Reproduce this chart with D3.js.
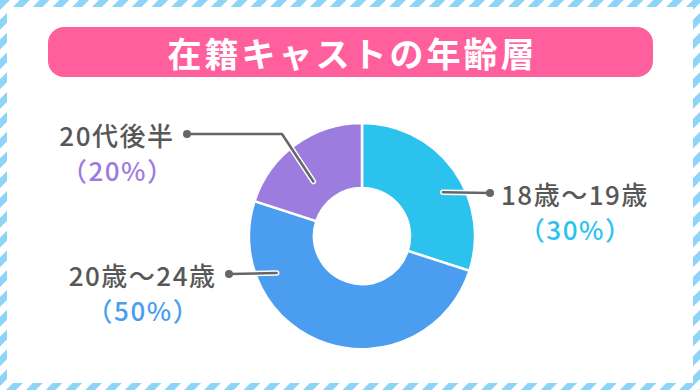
<!DOCTYPE html>
<html>
<head>
<meta charset="utf-8">
<script src="https://cdn.jsdelivr.net/npm/d3@7"></script>
<style>
  body { margin: 0; background: #fff; }
  svg { display: block; }
  .label { font-family: "Noto Sans CJK JP", sans-serif; font-size: 26px; font-weight: 500; fill: #575757; letter-spacing: 1.5px; }
  .pct { font-family: "Noto Sans CJK JP", sans-serif; font-size: 26px; font-weight: 500; letter-spacing: 1.5px; }
  .title { font-family: "Noto Sans CJK JP", sans-serif; font-size: 34px; font-weight: 700; fill: #fff; letter-spacing: 3px; }
</style>
</head>
<body>
<div id="chart"></div>
<script>
const titleText = "在籍キャストの年齢層";
const categories = ["18歳～19歳", "20歳～24歳", "20代後半"];
const shares = [30, 50, 20];
const colors = ["#2bc3ee", "#4a9def", "#9d7ce0"];

// leader line layout: where the line starts inside the slice, and where the label sits
const leaders = [
  { f: 0.57, r: 92, dot: [490, 193], elbow: null, anchor: "start" },
  { f: 0.77, r: 93, dot: [229, 274], elbow: null, anchor: "end" },
  { f: 0.42, r: 73, dot: [187, 134], elbow: [282, 134], anchor: "end" }
];

const width = 700, height = 390;
const cx = 362, cy = 236;
const outerR = 113, innerR = 48;

const svg = d3.select("#chart").append("svg")
  .attr("width", width)
  .attr("height", height);

// striped frame
const defs = svg.append("defs");
const pat = defs.append("pattern")
  .attr("id", "stripes")
  .attr("patternUnits", "userSpaceOnUse")
  .attr("width", 14)
  .attr("height", 14)
  .attr("patternTransform", "rotate(45)");
pat.append("rect").attr("width", 14).attr("height", 14).attr("fill", "#fff");
pat.append("rect").attr("width", 7).attr("height", 14).attr("fill", "#8dd4f8");

svg.append("rect").attr("width", width).attr("height", height).attr("fill", "url(#stripes)");
svg.append("rect")
  .attr("x", 7).attr("y", 7)
  .attr("width", width - 14).attr("height", height - 14)
  .attr("fill", "#fff");

// title
svg.append("rect")
  .attr("x", 48).attr("y", 27)
  .attr("width", 605).attr("height", 50)
  .attr("rx", 16)
  .attr("fill", "#ff5f9c");
svg.append("text")
  .attr("class", "title")
  .attr("x", 351 + 1.5)
  .attr("y", 52)
  .attr("text-anchor", "middle")
  .attr("dominant-baseline", "central")
  .text(titleText);

// donut
const data = categories.map((c, i) => ({ name: c, value: shares[i], color: colors[i], lead: leaders[i] }));
const pie = d3.pie().sort(null).value(d => d.value);
const arc = d3.arc().innerRadius(innerR).outerRadius(outerR);
const arcs = pie(data);

const g = svg.append("g").attr("transform", `translate(${cx},${cy})`);
g.selectAll("path.slice")
  .data(arcs)
  .join("path")
  .attr("class", "slice")
  .attr("d", arc)
  .attr("fill", d => d.data.color)
  .attr("stroke", "#fff")
  .attr("stroke-width", 2.5);

// leader lines
arcs.forEach(d => {
  const L = d.data.lead;
  const a = d.startAngle + L.f * (d.endAngle - d.startAngle);
  const p = d3.pointRadial(a, L.r);
  const start = [cx + p[0], cy + p[1]];
  const pts = [start];
  if (L.elbow) pts.push(L.elbow);
  pts.push(L.dot);
  const line = d3.line();
  svg.append("path").attr("d", line(pts))
    .attr("fill", "none").attr("stroke", "#fff").attr("stroke-width", 5.5)
    .attr("stroke-linecap", "round").attr("stroke-linejoin", "round");
  svg.append("path").attr("d", line(pts))
    .attr("fill", "none").attr("stroke", "#666").attr("stroke-width", 2.5)
    .attr("stroke-linecap", "round").attr("stroke-linejoin", "round");
  svg.append("circle").attr("cx", L.dot[0]).attr("cy", L.dot[1]).attr("r", 4).attr("fill", "#666");

  const tx = L.anchor === "start" ? L.dot[0] + 11 : L.dot[0] - 12.5;
  const t = svg.append("text")
    .attr("class", "label")
    .attr("x", tx)
    .attr("y", L.dot[1])
    .attr("text-anchor", L.anchor)
    .attr("dominant-baseline", "central")
    .text(d.data.name);
  const bb = t.node().getBBox();
  svg.append("text")
    .attr("class", "pct")
    .attr("x", bb.x + bb.width / 2 + 0.75)
    .attr("y", L.dot[1] + 35)
    .attr("text-anchor", "middle")
    .attr("dominant-baseline", "central")
    .attr("fill", d.data.color)
    .text("（" + d.data.value + "%）");
});
</script>
</body>
</html>
